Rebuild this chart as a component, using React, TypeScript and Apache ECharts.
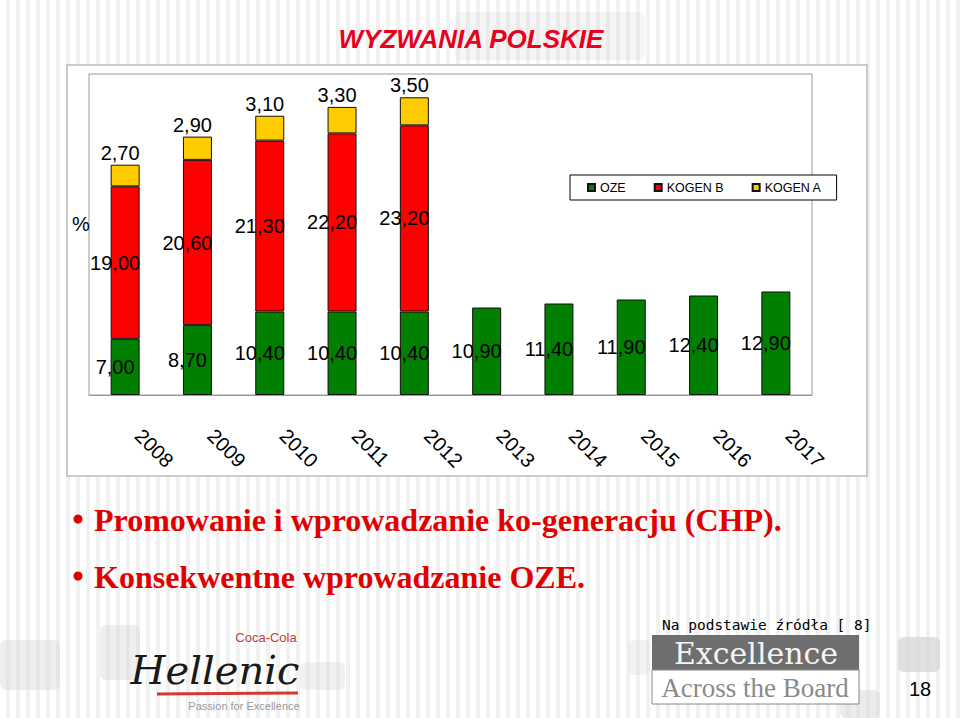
import React, { useEffect, useRef } from "react";
import * as echarts from "echarts";

const years = ["2008", "2009", "2010", "2011", "2012", "2013", "2014", "2015", "2016", "2017"];
const oze = [7.0, 8.7, 10.4, 10.4, 10.4, 10.9, 11.4, 11.9, 12.4, 12.9];
const kogenB = [19.0, 20.6, 21.3, 22.2, 23.2, null, null, null, null, null];
const kogenA = [2.7, 2.9, 3.1, 3.3, 3.5, null, null, null, null, null];
const seriesNames = ["OZE", "KOGEN B", "KOGEN A"];
const seriesColors = ["#007f00", "#ff0000", "#ffcc00"];
const title = "WYZWANIA POLSKIE";
const bullets = [
  "Promowanie i wprowadzanie ko-generacju (CHP).",
  "Konsekwentne wprowadzanie OZE.",
];
const sourceNote = "Na podstawie źródła [ 8]";
const pageNumber = "18";

const fmt = (v: number) => v.toFixed(2).replace(".", ",");

export default function App() {
  const ref = useRef<HTMLDivElement>(null);
  useEffect(() => {
    if (!ref.current) return;
    const chart = echarts.init(ref.current, null, { renderer: "svg" });
    const labelBase = {
      show: true,
      color: "#000",
      fontSize: 20,
      fontFamily: "Liberation Sans, Arial, sans-serif",
      formatter: (p: any) => (p.value == null ? "" : fmt(p.value)),
    };
    const itemStyle = (c: string) => ({ color: c, borderColor: "#111", borderWidth: 1 });
    const deco = (x: number, y: number, w: number, h: number, o: number) => ({
      type: "rect",
      z: -20,
      shape: { x, y, width: w, height: h, r: 6 },
      style: { fill: "#d8d8d8", opacity: o },
      silent: true,
    });
    chart.setOption({
      animation: false,
      backgroundColor: "transparent",
      textStyle: { fontFamily: "Liberation Sans, Arial, sans-serif" },
      grid: {
        left: 89,
        right: 148,
        top: 74,
        bottom: 323,
        show: true,
        borderColor: "#999",
        borderWidth: 1,
        backgroundColor: "#fff",
      },
      legend: {
        data: seriesNames,
        left: 570,
        top: 175,
        orient: "horizontal",
        icon: "rect",
        itemWidth: 7,
        itemHeight: 7,
        itemGap: 28,
        padding: [6, 15, 6, 17],
        borderColor: "#000",
        borderWidth: 1,
        backgroundColor: "#fff",
        textStyle: { fontSize: 12.5, color: "#000", fontFamily: "Liberation Sans, Arial, sans-serif" },
        z: 10,
      },
      xAxis: {
        type: "category",
        data: years,
        axisLine: { show: true, lineStyle: { color: "#999", width: 1 } },
        axisTick: { show: false },
        axisLabel: {
          rotate: -45,
          fontSize: 20,
          color: "#000",
          margin: 24,
          align: "left",
          padding: [0, 0, 0, 19],
          interval: 0,
          fontFamily: "Liberation Sans, Arial, sans-serif",
        },
      },
      yAxis: {
        type: "value",
        min: 0,
        max: 40,
        axisLine: { show: false },
        axisTick: { show: false },
        axisLabel: { show: false },
        splitLine: { show: false },
      },
      series: [
        {
          name: seriesNames[0],
          type: "bar",
          stack: "total",
          data: oze,
          barWidth: 29,
          itemStyle: itemStyle(seriesColors[0]),
          label: { ...labelBase, position: "inside", offset: [-10, 0] },
        },
        {
          name: seriesNames[1],
          type: "bar",
          stack: "total",
          data: kogenB,
          barWidth: 29,
          itemStyle: itemStyle(seriesColors[1]),
          label: { ...labelBase, position: "inside", offset: [-10, 0] },
        },
        {
          name: seriesNames[2],
          type: "bar",
          stack: "total",
          data: kogenA,
          barWidth: 29,
          itemStyle: itemStyle(seriesColors[2]),
          label: { ...labelBase, position: "top", distance: 2, offset: [-5, 0] },
        },
      ],
      graphic: [
        deco(455, 12, 190, 48, 0.25),
        deco(0, 640, 60, 50, 0.45),
        deco(100, 625, 40, 55, 0.4),
        deco(300, 662, 45, 28, 0.35),
        deco(898, 637, 42, 35, 0.8),
        deco(840, 690, 40, 28, 0.5),
        deco(628, 640, 22, 35, 0.3),
        {
          type: "rect",
          z: -10,
          shape: { x: 67, y: 65, width: 800, height: 411 },
          style: { fill: "#fff", stroke: "#bbb", lineWidth: 1.5 },
          silent: true,
        },
        {
          type: "text",
          x: 471,
          y: 39,
          style: {
            text: title,
            fill: "#e8001c",
            font: "italic bold 26px 'Liberation Sans', Arial, sans-serif",
            align: "center",
            verticalAlign: "middle",
          },
        },
        {
          type: "text",
          x: 81,
          y: 224,
          style: {
            text: "%",
            fill: "#000",
            font: "20px 'Liberation Sans', Arial, sans-serif",
            align: "center",
            verticalAlign: "middle",
          },
        },
        ...bullets.flatMap((b, i) => [
          {
            type: "circle",
            shape: { cx: 78, cy: 519 + i * 57, r: 4.5 },
            style: { fill: "#e00000" },
          },
          {
            type: "text",
            x: 94,
            y: 520 + i * 57,
            style: {
              text: b,
              fill: "#e00000",
              font: "bold 32px 'Liberation Serif', 'Times New Roman', serif",
              align: "left",
              verticalAlign: "middle",
            },
          },
        ]),
        {
          type: "text",
          x: 662,
          y: 625,
          style: {
            text: sourceNote,
            fill: "#000",
            font: "14.5px 'DejaVu Sans Mono', monospace",
            align: "left",
            verticalAlign: "middle",
          },
        },
        {
          type: "rect",
          shape: { x: 652, y: 635, width: 207, height: 35 },
          style: { fill: "#6e6e6e" },
        },
        {
          type: "text",
          x: 756,
          y: 653,
          style: {
            text: "Excellence",
            fill: "#f4f4f4",
            font: "30px 'DejaVu Serif', serif",
            align: "center",
            verticalAlign: "middle",
          },
        },
        {
          type: "rect",
          shape: { x: 652, y: 670, width: 207, height: 34 },
          style: { fill: "#fff", stroke: "#888", lineWidth: 1 },
        },
        {
          type: "text",
          x: 755,
          y: 688,
          style: {
            text: "Across the Board",
            fill: "#8a8a8a",
            font: "27px 'Liberation Serif', serif",
            align: "center",
            verticalAlign: "middle",
          },
        },
        {
          type: "text",
          x: 920,
          y: 689,
          style: {
            text: pageNumber,
            fill: "#000",
            font: "20px 'Liberation Sans', Arial, sans-serif",
            align: "center",
            verticalAlign: "middle",
          },
        },
        {
          type: "text",
          x: 215,
          y: 670,
          style: {
            text: "Hellenic",
            fill: "#1a1a1a",
            font: "italic 40px 'DejaVu Serif', serif",
            align: "center",
            verticalAlign: "middle",
          },
        },
        {
          type: "text",
          x: 266,
          y: 637,
          style: {
            text: "Coca-Cola",
            fill: "#b5443c",
            font: "13px 'Liberation Sans', Arial, sans-serif",
            align: "center",
            verticalAlign: "middle",
          },
        },
        {
          type: "line",
          shape: { x1: 157, y1: 694, x2: 298, y2: 693 },
          style: { stroke: "#d4382f", lineWidth: 3 },
        },
        {
          type: "text",
          x: 244,
          y: 706,
          style: {
            text: "Passion for Excellence",
            fill: "#999",
            font: "11px 'Liberation Sans', Arial, sans-serif",
            align: "center",
            verticalAlign: "middle",
          },
        },
      ],
    });
    return () => chart.dispose();
  }, []);
  return (
    <div
      ref={ref}
      style={{
        position: "fixed",
        left: 0,
        top: 0,
        width: 960,
        height: 718,
        background:
          "repeating-linear-gradient(90deg, #ffffff 0px, #ffffff 6px, #f1f1f1 6px, #f1f1f1 10px)",
      }}
    />
  );
}
